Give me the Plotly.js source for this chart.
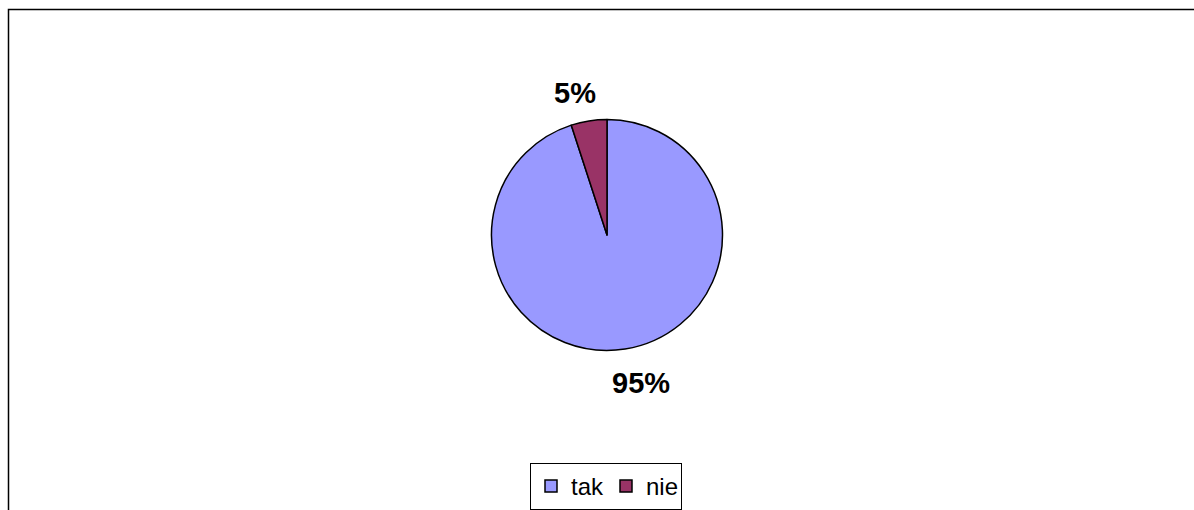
<!DOCTYPE html>
<html>
<head>
<meta charset="utf-8">
<script src="https://cdn.plot.ly/plotly-3.0.1.min.js"></script>
<style>
html,body{margin:0;padding:0;background:#fff;}
#chart{width:1194px;height:510px;}
</style>
</head>
<body>
<div id="chart"></div>
<script>
const categories = ["tak", "nie"];
const values = [95, 5];
const colors = ["#9999FF", "#993366"];

const W = 1194, H = 510;
const px = x => x / W;
const py = y => 1 - y / H;

const total = values.reduce((a, b) => a + b, 0);
const pctText = values.map(v => Math.round(v / total * 100) + "%");

const labelPos = [[641, 383], [575, 93]];
const annotations = categories.map((c, i) => ({
  x: px(labelPos[i][0]), y: py(labelPos[i][1]),
  xref: "paper", yref: "paper",
  text: "<b>" + pctText[i] + "</b>",
  showarrow: false,
  xanchor: "center", yanchor: "middle",
  font: {family: "Liberation Sans, Arial, sans-serif", size: 29, color: "#000"}
}));

const data = [{
  type: "pie",
  labels: categories,
  values: values,
  sort: false,
  direction: "clockwise",
  rotation: 0,
  textinfo: "none",
  hoverinfo: "label+percent",
  marker: {colors: colors, line: {color: "#000", width: 1.5}},
  domain: {x: [px(491.5), px(722.5)], y: [py(350.5), py(119.5)]}
}];

const layout = {
  width: W, height: H,
  margin: {l: 0, r: 0, t: 0, b: 0},
  paper_bgcolor: "#fff",
  showlegend: true,
  legend: {
    orientation: "h",
    x: px(530), y: py(463), xanchor: "left", yanchor: "top",
    bordercolor: "#000", borderwidth: 1,
    font: {family: "Liberation Sans, Arial, sans-serif", size: 24, color: "#000"},
    itemwidth: 30,
    entrywidth: 30, entrywidthmode: "pixels"
  },
  annotations: annotations,
  shapes: [{
    type: "rect", xref: "paper", yref: "paper",
    x0: px(8.5), x1: 1.05, y0: -0.05, y1: py(9.5),
    line: {color: "#000", width: 1.5}
  }]
};

Plotly.newPlot("chart", data, layout, {displayModeBar: false});
</script>
</body>
</html>
